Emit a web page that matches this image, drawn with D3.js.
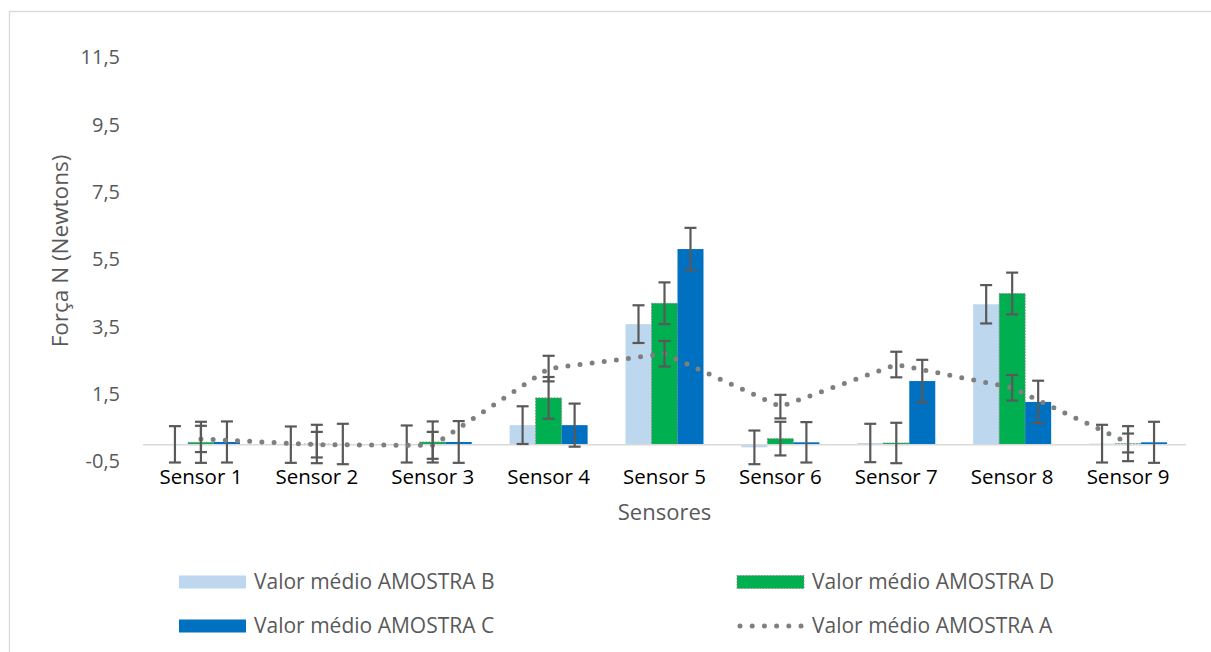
<!DOCTYPE html>
<html>
<head>
<meta charset="utf-8">
<script src="https://cdn.jsdelivr.net/npm/d3@7"></script>
<style>
  html, body { margin: 0; padding: 0; background: #ffffff; }
  svg { display: block; font-family: "Open Sans", sans-serif; }
</style>
</head>
<body>
<svg id="chart" width="1211" height="652"></svg>
<script>
// Sensor categories
const categories = ["Sensor 1", "Sensor 2", "Sensor 3", "Sensor 4", "Sensor 5",
                    "Sensor 6", "Sensor 7", "Sensor 8", "Sensor 9"];

// Mean force per sample (N) and error-bar half widths
const amostraB    = [0.01, 0.00, 0.02, 0.58, 3.58, -0.08, 0.05, 4.17, 0.03];
const amostraBErr = [0.54, 0.54, 0.55, 0.56, 0.56, 0.50, 0.57, 0.57, 0.56];

const amostraD    = [0.07, 0.02, 0.08, 1.39, 4.20, 0.18, 0.05, 4.49, 0.03];
const amostraDErr = [0.61, 0.57, 0.61, 0.62, 0.62, 0.50, 0.60, 0.62, 0.52];

const amostraC    = [0.08, 0.02, 0.08, 0.58, 5.81, 0.07, 1.89, 1.27, 0.07];
const amostraCErr = [0.61, 0.60, 0.62, 0.64, 0.63, 0.60, 0.63, 0.63, 0.61];

const amostraA    = [0.17, 0.00, -0.02, 2.26, 2.70, 1.13, 2.38, 1.69, 0.05];
const amostraAErr = [0.39, 0.38, 0.40, 0.38, 0.38, 0.35, 0.38, 0.38, 0.28];

// Axis ticks
const yTicks = [-0.5, 1.5, 3.5, 5.5, 7.5, 9.5, 11.5];

const legendLabels = ["Valor médio AMOSTRA B", "Valor médio AMOSTRA D",
                      "Valor médio AMOSTRA C", "Valor médio AMOSTRA A"];

const colors = { B: "#BDD7EE", D: "#00B050", C: "#0070C0", A: "#7F7F7F" };

const barSeries = [
  { key: "B", values: amostraB, errs: amostraBErr },
  { key: "D", values: amostraD, errs: amostraDErr },
  { key: "C", values: amostraC, errs: amostraCErr }
];

const ptLocale = d3.formatLocale({ decimal: ",", thousands: ".", grouping: [3],
                                   currency: ["", ""], minus: "-" });
const fmt = ptLocale.format(".1f");

const svg = d3.select("#chart");

// Chart frame
svg.append("rect")
  .attr("x", 9.5).attr("y", 11.5)
  .attr("width", 1240).attr("height", 700)
  .attr("fill", "#ffffff")
  .attr("stroke", "#D9D9D9").attr("stroke-width", 1.3);

const plot = { left: 143, right: 1186, top: 57.5, bottom: 461.5 };

const y = d3.scaleLinear().domain([-0.5, 11.5]).range([plot.bottom, plot.top]);

const pad = 0.327;
const x0 = d3.scaleBand().domain(categories)
  .range([plot.left, plot.right])
  .paddingInner(pad).paddingOuter(pad / 2);

const x1 = d3.scaleBand().domain(barSeries.map(s => s.key))
  .range([0, x0.bandwidth()]);

const cx = c => x0(c) + x0.bandwidth() / 2;

// Y axis labels (no axis line)
const yAxis = svg.append("g")
  .attr("transform", `translate(${plot.left - 23},0)`)
  .call(d3.axisLeft(y).tickValues(yTicks).tickSize(0).tickPadding(0).tickFormat(fmt));
yAxis.select(".domain").remove();
yAxis.selectAll("text")
  .attr("fill", "#595959")
  .style("font-size", "20px")
  .style("font-family", "'Open Sans', sans-serif");

// Bars
const gBars = svg.append("g");
barSeries.forEach(s => {
  gBars.selectAll(null)
    .data(categories.map((c, i) => ({ c, v: s.values[i] })))
    .join("rect")
    .attr("x", d => x0(d.c) + x1(s.key))
    .attr("y", d => Math.min(y(d.v), y(0)))
    .attr("width", x1.bandwidth())
    .attr("height", d => Math.abs(y(d.v) - y(0)))
    .attr("fill", colors[s.key])
    .attr("stroke", s.key === "D" ? "#8c8c8c" : "none")
    .attr("stroke-width", s.key === "D" ? 1 : 0)
    .attr("stroke-dasharray", s.key === "D" ? "1.5 1.5" : null);
});

// Horizontal category axis line at zero
svg.append("line")
  .attr("x1", plot.left).attr("x2", plot.right)
  .attr("y1", y(0)).attr("y2", y(0))
  .attr("stroke", "#D9D9D9").attr("stroke-width", 1.5);

// Error bars helper
const capHalf = 6;
function errorBars(g, xs, vals, errs) {
  const data = vals.map((v, i) => ({ x: xs[i], v, e: errs[i] }));
  const eg = g.selectAll(null).data(data).join("g")
    .attr("stroke", "#595959").attr("stroke-width", 2.2).attr("fill", "none");
  eg.append("line")
    .attr("x1", d => d.x).attr("x2", d => d.x)
    .attr("y1", d => y(d.v + d.e)).attr("y2", d => y(d.v - d.e));
  eg.append("line")
    .attr("x1", d => d.x - capHalf).attr("x2", d => d.x + capHalf)
    .attr("y1", d => y(d.v + d.e)).attr("y2", d => y(d.v + d.e));
  eg.append("line")
    .attr("x1", d => d.x - capHalf).attr("x2", d => d.x + capHalf)
    .attr("y1", d => y(d.v - d.e)).attr("y2", d => y(d.v - d.e));
}

const gErr = svg.append("g");
barSeries.forEach(s => {
  const xs = categories.map(c => x0(c) + x1(s.key) + x1.bandwidth() / 2);
  errorBars(gErr, xs, s.values, s.errs);
});

// Dotted line for sample A
const line = d3.line().x((d, i) => cx(categories[i])).y(d => y(d));
svg.append("path")
  .datum(amostraA)
  .attr("d", line)
  .attr("fill", "none")
  .attr("stroke", colors.A)
  .attr("stroke-width", 5)
  .attr("stroke-linecap", "round")
  .attr("stroke-dasharray", "0 12.2");

errorBars(svg.append("g"), categories.map(cx), amostraA, amostraAErr);

// Category labels
svg.append("g").selectAll("text")
  .data(categories).join("text")
  .attr("x", d => cx(d)).attr("y", 484)
  .attr("text-anchor", "middle")
  .attr("fill", "#000000")
  .style("font-size", "20.5px")
  .text(d => d);

// Axis titles
svg.append("text")
  .attr("x", cx("Sensor 5")).attr("y", 520)
  .attr("text-anchor", "middle")
  .attr("fill", "#595959")
  .style("font-size", "22px")
  .text("Sensores");

svg.append("text")
  .attr("transform", "translate(68,251) rotate(-90)")
  .attr("text-anchor", "middle")
  .attr("fill", "#595959")
  .style("font-size", "22.5px")
  .text("Força N (Newtons)");

// Legend
const legendItems = [
  { key: "B", label: legendLabels[0], x: 179, y: 582 },
  { key: "D", label: legendLabels[1], x: 737, y: 582 },
  { key: "C", label: legendLabels[2], x: 179, y: 626 },
  { key: "A", label: legendLabels[3], x: 737, y: 626 }
];
const lg = svg.append("g");
legendItems.forEach(it => {
  if (it.key === "A") {
    lg.append("line")
      .attr("x1", it.x + 3).attr("x2", it.x + 66)
      .attr("y1", it.y).attr("y2", it.y)
      .attr("stroke", colors.A).attr("stroke-width", 5)
      .attr("stroke-linecap", "round")
      .attr("stroke-dasharray", "0 12.2");
  } else {
    lg.append("rect")
      .attr("x", it.x).attr("y", it.y - 6.5)
      .attr("width", 67).attr("height", 13)
      .attr("fill", colors[it.key])
      .attr("stroke", it.key === "D" ? "#8c8c8c" : "none")
      .attr("stroke-dasharray", it.key === "D" ? "1.5 1.5" : null);
  }
  lg.append("text")
    .attr("x", it.x + 75).attr("y", it.y + 7)
    .attr("fill", "#595959")
    .style("font-size", "21px")
    .text(it.label);
});
</script>
</body>
</html>
